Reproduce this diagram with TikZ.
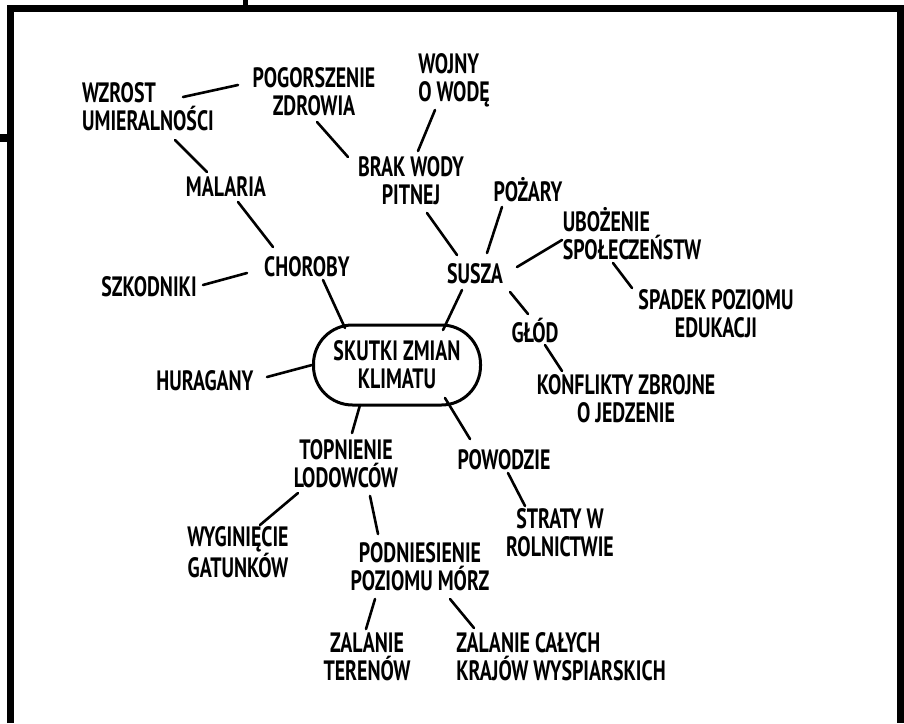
\documentclass[tikz,border=0pt]{standalone}
\usepackage{fontspec}
\newfontfamily\hand[FakeStretch=0.71]{PT Sans}
\tikzset{
  lbl/.style={font=\hand\bfseries\fontsize{28}{28}\selectfont, inner sep=0pt, align=center},
  lbll/.style={lbl, align=left},
  conn/.style={line width=2.6pt, line cap=round},
  frame/.style={line width=7pt, line join=miter},
  hub/.style={lbl, draw, line width=3pt, rounded corners=39pt, minimum width=167pt, minimum height=80pt}
}
\begin{document}
\begin{tikzpicture}[x=1pt,y=-1pt]
\useasboundingbox (0,0) rectangle (904,723);
% frame
\draw[frame] (10.5,723) -- (10.5,8.5) -- (900,8.5) -- (900,723);
\draw[line width=5.5pt] (245.5,0) -- (245.5,8.5);
\draw[line width=8pt] (0,138) -- (10.5,138);
% nodes
\node[lbll] (wzr) at (148,107) {WZROST\\UMIERALNOŚCI};
\node[lbl] (pog) at (314,92) {POGORSZENIE\\ZDROWIA};
\node[lbll] (woj) at (454,80) {WOJNY\\O WODĘ};
\node[lbl] (brak) at (411,181) {BRAK WODY\\PITNEJ};
\node[lbl] (mal) at (226,187) {MALARIA};
\node[lbl] (poz) at (528,190) {POŻARY};
\node[lbll] (ubo) at (632,234) {UBOŻENIE\\SPOŁECZEŃSTW};
\node[lbl] (cho) at (307,267) {CHOROBY};
\node[lbl] (szk) at (149,287) {SZKODNIKI};
\node[lbl] (sus) at (475,274) {SUSZA};
\node[lbl] (spa) at (716,314) {SPADEK POZIOMU\\EDUKACJI};
\node[lbl] (glod) at (535,331) {GŁÓD};
\node[hub] (sku) at (397,365) {SKUTKI ZMIAN\\KLIMATU};
\node[lbl] (hur) at (205,381) {HURAGANY};
\node[lbl] (kon) at (626,399) {KONFLIKTY ZBROJNE\\O JEDZENIE};
\node[lbl] (top) at (346,464) {TOPNIENIE\\LODOWCÓW};
\node[lbl] (pow) at (504,460) {POWODZIE};
\node[lbl] (str) at (560,533) {STRATY W\\ROLNICTWIE};
\node[lbl] (wyg) at (238,552) {WYGINIĘCIE\\GATUNKÓW};
\node[lbl] (pod) at (420,567) {PODNIESIENIE\\POZIOMU MÓRZ};
\node[lbl] (zt) at (367,657) {ZALANIE\\TERENÓW};
\node[lbll] (zc) at (561,657) {ZALANIE CAŁYCH\\KRAJÓW WYSPIARSKICH};
% connectors
\draw[conn] ([shift={(35,-10)}]wzr.center) -- ([shift={(-76,-7)}]pog.center);
\draw[conn] ([shift={(27,33)}]wzr.center) -- ([shift={(-19,-15)}]mal.center);
\draw[conn] ([shift={(3,30)}]pog.center) -- ([shift={(-63,-24)}]brak.center);
\draw[conn] ([shift={(-19,30)}]woj.center) -- ([shift={(7,-30)}]brak.center);
\draw[conn] ([shift={(16,32)}]brak.center) -- ([shift={(-18,-19)}]sus.center);
\draw[conn] ([shift={(12,15)}]mal.center) -- ([shift={(-34,-20)}]cho.center);
\draw[conn] ([shift={(-60,6)}]cho.center) -- ([shift={(54,-2)}]szk.center);
\draw[conn] ([shift={(16,13)}]cho.center) -- ([shift={(-52,-37)}]sku.center);
\draw[conn] ([shift={(-26,17)}]poz.center) -- ([shift={(12,-21)}]sus.center);
\draw[conn] ([shift={(42,-7)}]sus.center) -- ([shift={(-70,6)}]ubo.center);
\draw[conn] ([shift={(-19,29)}]ubo.center) -- ([shift={(-84,-26)}]spa.center);
\draw[conn] ([shift={(35,18)}]sus.center) -- ([shift={(-7,-17)}]glod.center);
\draw[conn] ([shift={(-13,16)}]sus.center) -- ([shift={(46,-35)}]sku.center);
\draw[conn] ([shift={(10,14)}]glod.center) -- ([shift={(-64,-28)}]kon.center);
\draw[conn] ([shift={(62,-4)}]hur.center) -- ([shift={(-85,0)}]sku.center);
\draw[conn] ([shift={(-37,40)}]sku.center) -- ([shift={(6,-31)}]top.center);
\draw[conn] ([shift={(48,33)}]sku.center) -- ([shift={(-34,-21)}]pow.center);
\draw[conn] ([shift={(4,13)}]pow.center) -- ([shift={(-35,-27)}]str.center);
\draw[conn] ([shift={(-48,29)}]top.center) -- ([shift={(22,-27)}]wyg.center);
\draw[conn] ([shift={(24,32)}]top.center) -- ([shift={(-42,-33)}]pod.center);
\draw[conn] ([shift={(-45,32)}]pod.center) -- ([shift={(-1,-28)}]zt.center);
\draw[conn] ([shift={(30,32)}]pod.center) -- ([shift={(-87,-29)}]zc.center);
\end{tikzpicture}
\end{document}
